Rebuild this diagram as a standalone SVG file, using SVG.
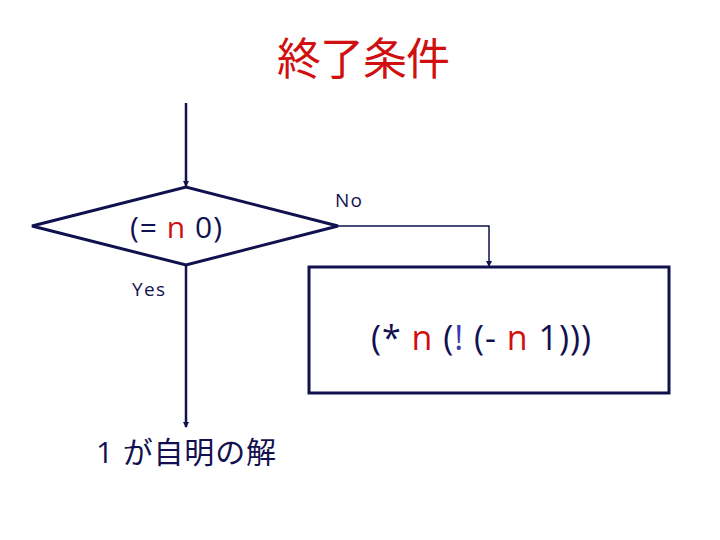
<svg xmlns="http://www.w3.org/2000/svg" width="720" height="540" viewBox="0 0 720 540">
<style>
.shape{fill:none;stroke:#11114f;stroke-width:3}
.line{fill:none;stroke:#11114f;stroke-width:2.5}
.thin{fill:none;stroke:#11114f;stroke-width:1.5}
.t{font-family:"Open Sans","Liberation Sans","Noto Sans CJK JP",sans-serif;fill:#11114f}
.r{fill:#d01010}
.b{fill:#3a3ab0}
</style>
<defs>
<marker id="ah" markerWidth="6" markerHeight="6" refX="5" refY="3" orient="auto" markerUnits="userSpaceOnUse">
<path d="M0,0 L6,3 L0,6 z" fill="#11114f"/>
</marker>
</defs>
<rect width="720" height="540" fill="#fff"/>
<text class="t r" x="277" y="75" font-size="44" textLength="173" font-family="'Noto Sans CJK JP',sans-serif">終了条件</text>
<g id="connectors">
<line class="line" x1="186" y1="103" x2="186" y2="186" marker-end="url(#ah)"/>
<line class="line" x1="186" y1="265" x2="186" y2="427" marker-end="url(#ah)"/>
<polyline class="thin" points="338,226 489,226 489,266" marker-end="url(#ah)"/>
<text class="t" x="335" y="207" font-size="19" textLength="27">No</text>
<text class="t" x="132" y="296" font-size="19" textLength="33">Yes</text>
</g>
<g id="decision">
<polygon class="shape" points="32,226 186,187 338,226 186,265"/>
<text class="t" x="130" y="238" font-size="30" textLength="92">(= <tspan class="r">n</tspan> 0)</text>
</g>
<g id="process">
<rect class="shape" x="309" y="267" width="360" height="126"/>
<text class="t" x="371" y="350" font-size="34" textLength="220">(* <tspan class="r">n</tspan> (<tspan class="b">!</tspan> (- <tspan class="r">n</tspan> 1)))</text>
</g>
<g id="result">
<text class="t" x="96" y="463" font-size="30" textLength="180" font-family="'Noto Sans CJK JP',sans-serif">1 が自明の解</text>
</g>
</svg>
